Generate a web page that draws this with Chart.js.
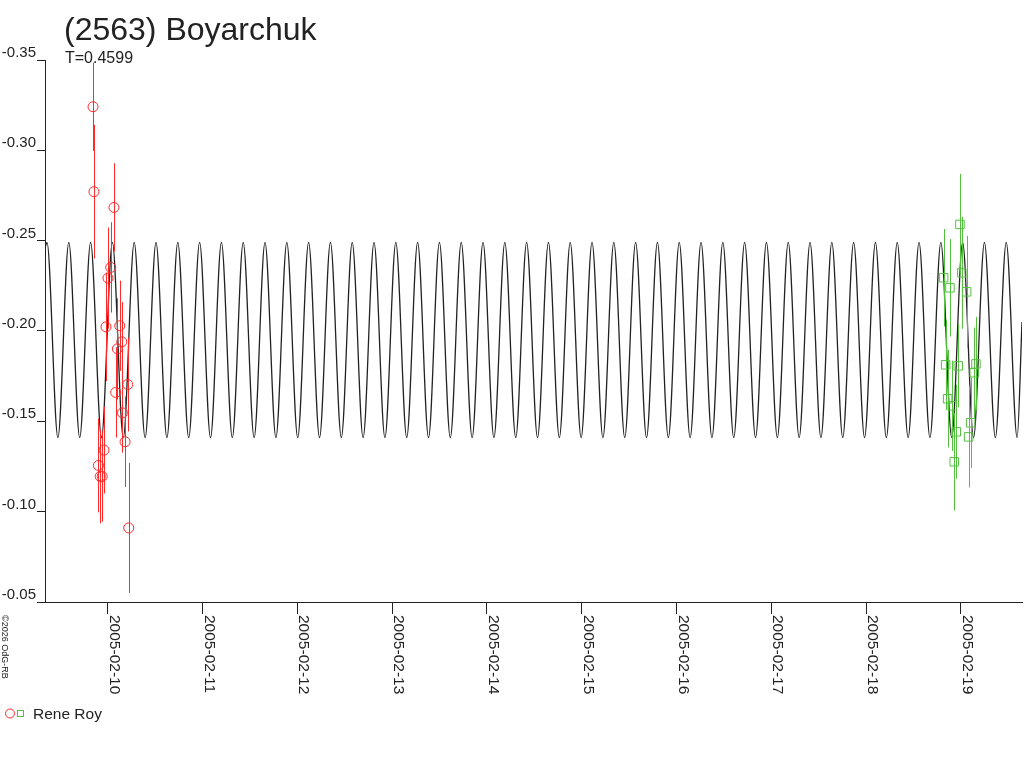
<!DOCTYPE html>
<html>
<head>
<meta charset="utf-8">
<title>(2563) Boyarchuk</title>
<script src="https://cdn.jsdelivr.net/npm/chart.js@4.4.1/dist/chart.umd.min.js"></script>
<style>
  html, body { margin: 0; padding: 0; background: #fff; }
  canvas { display: block; }
</style>
</head>
<body>
<canvas id="lightCurve" width="1024" height="768"></canvas>
<script>
const titleText = '(2563) Boyarchuk';
const periodText = 'T=0.4599';
const observerName = 'Rene Roy';
const copyrightText = '\u00a92026 OdG-RB';

// x is the day of February 2005
const dayTicks = [10, 11, 12, 13, 14, 15, 16, 17, 18, 19];
const dateLabels = ['2005-02-10', '2005-02-11', '2005-02-12', '2005-02-13', '2005-02-14',
  '2005-02-15', '2005-02-16', '2005-02-17', '2005-02-18', '2005-02-19'];
const magTicks = [-0.35, -0.30, -0.25, -0.20, -0.15, -0.10, -0.05];
const magLabels = ['-0.35', '-0.30', '-0.25', '-0.20', '-0.15', '-0.10', '-0.05'];
const dayMin = 9.3386;
const dayMax = 19.6437;

// fitted curve: maxima / minima
const peakTimes = [9.3597, 9.5897, 9.8196, 10.0496, 10.2795, 10.5095, 10.7394, 10.9694, 11.1993,
  11.4293, 11.6592, 11.8892, 12.1191, 12.3491, 12.5790, 12.8090, 13.0389, 13.2689, 13.4988,
  13.7288, 13.9587, 14.1887, 14.4186, 14.6486, 14.8785, 15.1085, 15.3384, 15.5684, 15.7983,
  16.0283, 16.2582, 16.4882, 16.7181, 16.9481, 17.1780, 17.4080, 17.6379, 17.8679, 18.0978,
  18.3278, 18.5577, 18.7877, 19.0176, 19.2476, 19.4775];
const troughTimes = [9.4747, 9.7047, 9.9346, 10.1646, 10.3945, 10.6245, 10.8544, 11.0844, 11.3143,
  11.5443, 11.7742, 12.0042, 12.2341, 12.4641, 12.6940, 12.9240, 13.1539, 13.3839, 13.6138,
  13.8438, 14.0737, 14.3037, 14.5336, 14.7636, 14.9935, 15.2235, 15.4534, 15.6834, 15.9133,
  16.1433, 16.3732, 16.6032, 16.8331, 17.0631, 17.2930, 17.5230, 17.7529, 17.9829, 18.2128,
  18.4428, 18.6727, 18.9027, 19.1326, 19.3626, 19.5925];
const peakMag = -0.249;
const troughMag = -0.141;
const curveStartMag = -0.246;
const curveEndMag = -0.205;

// session 1 (red circles)
const redTimes = [9.845, 9.855, 10.066, 10.032, 10.003, 9.982, 10.127, 10.148, 10.102,
  10.211, 10.084, 10.155, 10.183, 9.961, 9.902, 9.921, 9.942, 10.222];
const redMags = [-0.3241, -0.2771, -0.2684, -0.2352, -0.2293, -0.2023, -0.2029, -0.1940, -0.1901,
  -0.1704, -0.1660, -0.1547, -0.1387, -0.1341, -0.1256, -0.1195, -0.1195, -0.0910];
const redErrs = [0.0244, 0.037, 0.0244, 0.025, 0.028, 0.030, 0.025, 0.022, 0.028,
  0.026, 0.025, 0.022, 0.025, 0.024, 0.026, 0.026, 0.025, 0.036];

// session 2 (green squares)
const greenTimes = [18.989, 18.817, 18.884, 19.009, 19.060, 18.838, 18.971, 19.158,
  19.140, 18.859, 18.908, 18.950, 19.102, 19.081, 18.929];
const greenMags = [-0.2590, -0.2295, -0.2239, -0.2322, -0.2217, -0.1813, -0.1807, -0.1818,
  -0.1769, -0.1625, -0.1586, -0.1442, -0.1492, -0.1414, -0.1276];
const greenErrs = [0.028, 0.027, 0.027, 0.031, 0.031, 0.025, 0.023, 0.026,
  0.025, 0.027, 0.025, 0.026, 0.025, 0.028, 0.027];

const ink = '#222';
const red = '#ff2a2a';
const green = '#55c040';
const fontFamily = '"Liberation Sans", Arial, sans-serif';

const modelPoints = [{ x: dayMin, y: curveStartMag }];
peakTimes.forEach((t, i) => {
  modelPoints.push({ x: t, y: peakMag });
  modelPoints.push({ x: troughTimes[i], y: troughMag });
});
modelPoints.push({ x: dayMax, y: curveEndMag });

const toPoints = (xs, ys) => xs.map((x, i) => ({ x: x, y: ys[i] }));

const errorBars = {
  id: 'errorBars',
  afterDatasetsDraw(chart) {
    const { ctx, scales: { x, y } } = chart;
    ctx.save();
    ctx.lineWidth = 1;
    chart.data.datasets.forEach(ds => {
      if (!ds.errors) return;
      ctx.strokeStyle = ds.borderColor;
      ds.data.forEach((p, i) => {
        const px = Math.round(x.getPixelForValue(p.x)) + 0.5;
        ctx.beginPath();
        ctx.moveTo(px, y.getPixelForValue(p.y - ds.errors[i]));
        ctx.lineTo(px, y.getPixelForValue(p.y + ds.errors[i]));
        ctx.stroke();
      });
    });
    ctx.restore();
  }
};

const decorations = {
  id: 'decorations',
  afterDraw(chart) {
    const { ctx, scales: { x }, chartArea } = chart;
    ctx.save();
    ctx.fillStyle = ink;
    ctx.textAlign = 'left';
    ctx.textBaseline = 'alphabetic';

    ctx.font = '32px ' + fontFamily;
    ctx.fillText(titleText, 64, 40);
    ctx.font = '16px ' + fontFamily;
    ctx.fillText(periodText, 65, 63);

    // date labels, reading downwards
    ctx.font = '15.5px ' + fontFamily;
    x.ticks.forEach((t, i) => {
      const px = Math.round(x.getPixelForValue(t.value));
      ctx.save();
      ctx.translate(px + 2, chartArea.bottom + 13);
      ctx.rotate(Math.PI / 2);
      ctx.fillText(dateLabels[i], 0, 0);
      ctx.restore();
    });

    ctx.font = '9px ' + fontFamily;
    ctx.save();
    ctx.translate(2, chartArea.bottom + 13);
    ctx.rotate(Math.PI / 2);
    ctx.fillText(copyrightText, 0, 0);
    ctx.restore();

    // legend
    ctx.lineWidth = 1;
    ctx.strokeStyle = red;
    ctx.beginPath();
    ctx.arc(10, 713.5, 4.5, 0, Math.PI * 2);
    ctx.stroke();
    ctx.strokeStyle = green;
    ctx.strokeRect(17.5, 710.5, 6, 6);
    ctx.font = '15.5px ' + fontFamily;
    ctx.fillText(observerName, 33, 719);
    ctx.restore();
  }
};

new Chart(document.getElementById('lightCurve'), {
  type: 'scatter',
  data: {
    datasets: [
      {
        type: 'line',
        label: 'model',
        data: modelPoints,
        borderColor: ink,
        borderWidth: 1.3,
        pointRadius: 0,
        cubicInterpolationMode: 'monotone',
        fill: false,
        order: 3
      },
      {
        label: observerName,
        data: toPoints(redTimes, redMags),
        errors: redErrs,
        pointStyle: 'circle',
        pointRadius: 5,
        borderColor: red,
        backgroundColor: 'rgba(0,0,0,0)',
        borderWidth: 1,
        order: 2
      },
      {
        label: observerName,
        data: toPoints(greenTimes, greenMags),
        errors: greenErrs,
        pointStyle: 'rect',
        pointRadius: 6,
        borderColor: green,
        backgroundColor: 'rgba(0,0,0,0)',
        borderWidth: 1,
        order: 1
      }
    ]
  },
  options: {
    responsive: false,
    animation: false,
    devicePixelRatio: 1,
    layout: { autoPadding: false, padding: { top: 60, right: 2, left: 0, bottom: 0 } },
    plugins: {
      legend: { display: false },
      tooltip: { enabled: false },
      title: { display: false }
    },
    scales: {
      x: {
        type: 'linear',
        min: dayMin,
        max: dayMax,
        afterBuildTicks: s => { s.ticks = dayTicks.map(v => ({ value: v })); },
        ticks: { display: false },
        grid: { drawOnChartArea: false, drawTicks: true, tickLength: 12, color: ink },
        border: { display: true, color: ink, width: 1 },
        afterFit: s => { s.height = 166; }
      },
      y: {
        type: 'linear',
        reverse: true,
        min: -0.35,
        max: -0.05,
        afterBuildTicks: s => { s.ticks = magTicks.map(v => ({ value: v })); },
        ticks: {
          callback: (v, i) => magLabels[i],
          font: { family: fontFamily, size: 15 },
          color: ink,
          padding: 1,
          labelOffset: -7
        },
        grid: { drawOnChartArea: false, drawTicks: true, tickLength: 8, color: ink },
        border: { display: true, color: ink, width: 1 },
        afterFit: s => { s.width = 45; }
      }
    }
  },
  plugins: [errorBars, decorations]
});
</script>
</body>
</html>
